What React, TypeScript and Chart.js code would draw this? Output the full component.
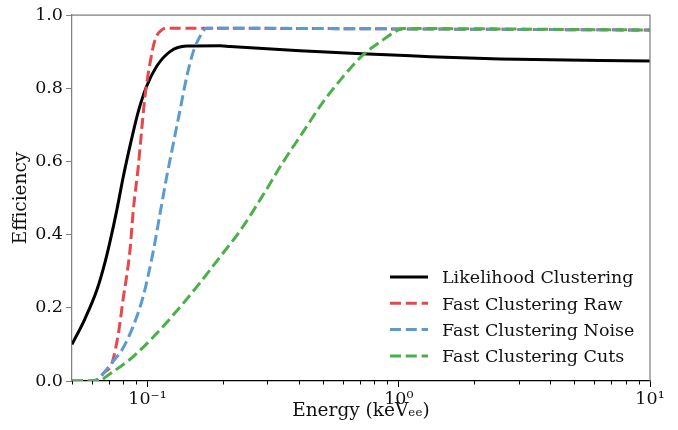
import React, { useEffect, useRef } from 'react';
import { Chart, registerables } from 'chart.js';

Chart.register(...registerables);

// ---- data (energy in keV_ee, efficiency) ----
const likelihoodEnergy = [0.05, 0.0563, 0.0629, 0.0677, 0.0708, 0.0754, 0.08, 0.0864, 0.0918, 0.0992, 0.1087, 0.1228, 0.1431, 0.1942, 0.213, 0.404, 1.0, 1.33, 2.53, 10];
const likelihoodEff = [0.1, 0.17, 0.25, 0.325, 0.38, 0.467, 0.558, 0.662, 0.736, 0.806, 0.86, 0.9, 0.915, 0.916, 0.914, 0.902, 0.89, 0.886, 0.88, 0.874];

const rawEnergy = [0.05, 0.06, 0.0645, 0.0665, 0.0722, 0.0765, 0.0798, 0.0851, 0.0877, 0.0918, 0.0947, 0.0976, 0.1022, 0.107, 0.1138, 0.1191, 1.0, 10];
const rawEff = [0, 0, 0.008, 0.02, 0.05, 0.13, 0.221, 0.358, 0.467, 0.586, 0.686, 0.777, 0.868, 0.932, 0.959, 0.964, 0.962, 0.959];

const noiseEnergy = [0.05, 0.06, 0.0645, 0.0665, 0.0722, 0.0798, 0.0874, 0.0959, 0.105, 0.1127, 0.1191, 0.1266, 0.1346, 0.1431, 0.152, 0.1616, 0.1718, 1.0, 10];
const noiseEff = [0, 0, 0.008, 0.02, 0.05, 0.09, 0.148, 0.23, 0.35, 0.467, 0.558, 0.649, 0.74, 0.831, 0.9, 0.941, 0.964, 0.962, 0.959];

const cutsEnergy = [0.05, 0.065, 0.0658, 0.0874, 0.109, 0.1346, 0.1616, 0.1942, 0.2333, 0.288, 0.346, 0.4155, 0.499, 0.5995, 0.72, 0.865, 0.948, 1.039, 10];
const cutsEff = [0, 0, 0.003, 0.066, 0.131, 0.202, 0.268, 0.339, 0.41, 0.508, 0.598, 0.68, 0.762, 0.831, 0.891, 0.932, 0.951, 0.963, 0.959];

const seriesLabels = ['Likelihood Clustering', 'Fast Clustering Raw', 'Fast Clustering Noise', 'Fast Clustering Cuts'];

const xMajorTicks = [0.1, 1, 10];
const xMajorLabels = ['10\u207B\u00B9', '10\u2070', '10\u00B9'];
const xMinorTicks = [0.05, 0.06, 0.07, 0.08, 0.09, 0.2, 0.3, 0.4, 0.5, 0.6, 0.7, 0.8, 0.9, 2, 3, 4, 5, 6, 7, 8, 9];
const yTicks = [0, 0.2, 0.4, 0.6, 0.8, 1.0];

const FONT = "'DejaVu Serif', serif";
const TEXT = '#111';

const toPoints = (xs: number[], ys: number[]) => xs.map((x, i) => ({ x, y: ys[i] }));

const decorPlugin = {
  id: 'decor',
  afterDraw(chart: any) {
    const { ctx, chartArea } = chart;
    const { left, right, top, bottom } = chartArea;
    ctx.save();
    // top & right spines
    ctx.strokeStyle = '#808080';
    ctx.lineWidth = 1.25;
    ctx.beginPath();
    ctx.moveTo(left, top);
    ctx.lineTo(right, top);
    ctx.lineTo(right, bottom);
    ctx.stroke();
    // minor x ticks
    const xs = chart.scales.x;
    ctx.strokeStyle = '#000';
    ctx.lineWidth = 1;
    for (const v of xMinorTicks) {
      const px = Math.round(xs.getPixelForValue(v)) + 0.5;
      ctx.beginPath();
      ctx.moveTo(px, bottom);
      ctx.lineTo(px, bottom + 3.5);
      ctx.stroke();
    }
    // legend
    const fs = 17.5;
    ctx.font = `${fs}px ${FONT}`;
    ctx.textAlign = 'left';
    ctx.textBaseline = 'alphabetic';
    const x0 = right - 260;
    const y0 = bottom - 104;
    chart.data.datasets.forEach((ds: any, i: number) => {
      const y = y0 + i * 26.3;
      ctx.strokeStyle = ds.borderColor;
      ctx.lineWidth = ds.borderWidth;
      ctx.setLineDash(ds.borderDash || []);
      ctx.beginPath();
      ctx.moveTo(x0, y);
      ctx.lineTo(x0 + 38, y);
      ctx.stroke();
      ctx.setLineDash([]);
      ctx.fillStyle = TEXT;
      ctx.fillText(ds.label, x0 + 52, y + 0.365 * fs);
    });
    ctx.restore();
  },
};

export default function App() {
  const ref = useRef<HTMLCanvasElement | null>(null);
  useEffect(() => {
    document.body.style.margin = '0';
    const canvas = ref.current;
    if (!canvas) return;
    const dash = [11, 4.8];
    const chart = new Chart(canvas, {
      type: 'line',
      data: {
        datasets: [
          { label: seriesLabels[0], data: toPoints(likelihoodEnergy, likelihoodEff), borderColor: '#000000', borderWidth: 3, order: 3 },
          { label: seriesLabels[1], data: toPoints(rawEnergy, rawEff), borderColor: '#e8474c', borderWidth: 3, borderDash: dash, order: 2 },
          { label: seriesLabels[2], data: toPoints(noiseEnergy, noiseEff), borderColor: '#5b9bcf', borderWidth: 3, borderDash: dash, order: 1 },
          { label: seriesLabels[3], data: toPoints(cutsEnergy, cutsEff), borderColor: '#4cb04a', borderWidth: 3, borderDash: dash, order: 0 },
        ] as any,
      },
      options: {
        animation: false,
        responsive: false,
        devicePixelRatio: 1,
        layout: { padding: { top: 15, right: 28, left: 0, bottom: 0 } },
        elements: {
          point: { radius: 0 },
          line: { cubicInterpolationMode: 'monotone', fill: false },
        },
        plugins: {
          legend: { display: false },
          tooltip: { enabled: false },
        },
        scales: {
          x: {
            type: 'logarithmic',
            min: 0.05,
            max: 10,
            afterBuildTicks: (s: any) => {
              s.ticks = xMajorTicks.map((v) => ({ value: v }));
            },
            afterFit: (s: any) => {
              s.height = 49;
            },
            ticks: {
              autoSkip: false,
              maxRotation: 0,
              padding: 2,
              color: TEXT,
              font: { family: FONT, size: 17.5 },
              callback: (v: any) => {
                const i = xMajorTicks.indexOf(Number(v));
                return i >= 0 ? xMajorLabels[i] : '';
              },
            },
            grid: { drawOnChartArea: false, tickLength: 6, tickColor: '#000', tickWidth: 1 },
            border: { color: '#000', width: 1.25 },
            title: {
              display: true,
              text: 'Energy (keV\u2091\u2091)',
              color: TEXT,
              font: { family: FONT, size: 18.5 },
              padding: { top: 0, bottom: 8 },
            },
          },
          y: {
            type: 'linear',
            min: 0,
            max: 1,
            afterBuildTicks: (s: any) => {
              s.ticks = yTicks.map((v) => ({ value: v }));
            },
            afterFit: (s: any) => {
              s.width = 72;
            },
            ticks: {
              padding: 3,
              color: TEXT,
              font: { family: FONT, size: 17.5 },
              callback: (v: any) => Number(v).toFixed(1),
            },
            grid: { drawOnChartArea: false, tickLength: 6, tickColor: '#808080', tickWidth: 1 },
            border: { color: '#808080', width: 1.25 },
            title: {
              display: true,
              text: 'Efficiency',
              color: TEXT,
              font: { family: FONT, size: 18.5 },
              padding: { top: 10, bottom: 0 },
            },
          },
        },
      } as any,
      plugins: [decorPlugin],
    });
    return () => chart.destroy();
  }, []);
  return (
    <div style={{ width: 678, height: 430 }}>
      <canvas ref={ref} width={678} height={430} />
    </div>
  );
}
